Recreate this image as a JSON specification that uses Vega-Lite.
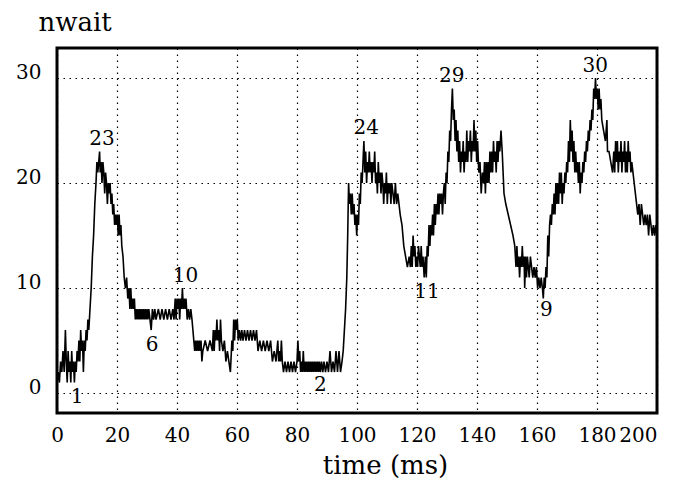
{
  "$schema": "https://vega.github.io/schema/vega-lite/v6.json",
  "width": 600,
  "height": 365,
  "autosize": {"type": "none"},
  "padding": {"left": 57, "top": 48, "right": 20, "bottom": 68},
  "background": "white",
  "config": {
    "view": {"stroke": "black", "strokeWidth": 3},
    "font": "DejaVu Serif"
  },
  "datasets": {
    "series": [
      {"t":0,"n":1},{"t":0.4,"n":2},{"t":0.8,"n":1},{"t":1.2,"n":3},{"t":1.6,"n":2},{"t":2.0,"n":4},{"t":2.4,"n":2},{"t":2.8,"n":6},{"t":3.1,"n":3},{"t":3.4,"n":1},{"t":3.7,"n":4},{"t":4.0,"n":2},{"t":4.3,"n":3},{"t":4.6,"n":1},{"t":4.9,"n":4},{"t":5.2,"n":2},{"t":5.5,"n":3},{"t":5.8,"n":1},{"t":6.1,"n":3},{"t":6.4,"n":2},{"t":6.7,"n":4},{"t":7.0,"n":3},{"t":7.3,"n":5},{"t":7.6,"n":3},{"t":7.9,"n":6},{"t":8.2,"n":4},{"t":8.5,"n":5},{"t":8.8,"n":2},{"t":9.1,"n":5},{"t":9.4,"n":4},{"t":9.7,"n":6},{"t":10.0,"n":5},{"t":10.3,"n":7},{"t":10.6,"n":6},
      {"t":11.0,"n":8},{"t":11.4,"n":10},{"t":11.8,"n":13},{"t":12.2,"n":15},{"t":12.6,"n":18},{"t":13.0,"n":20},{"t":13.3,"n":22},{"t":13.6,"n":21},{"t":13.9,"n":22},{"t":14.2,"n":23},{"t":14.4,"n":21},{"t":14.7,"n":22},{"t":15.0,"n":20},{"t":15.3,"n":22},{"t":15.6,"n":21},{"t":15.9,"n":19},{"t":16.2,"n":21},{"t":16.5,"n":20},{"t":16.8,"n":18},{"t":17.1,"n":20},{"t":17.4,"n":19},{"t":17.7,"n":20},{"t":18.0,"n":18},{"t":18.3,"n":19},{"t":18.6,"n":17},{"t":18.9,"n":18},{"t":19.2,"n":16},{"t":19.5,"n":17},{"t":19.8,"n":16},{"t":20.1,"n":17},{"t":20.4,"n":15},{"t":20.7,"n":17},{"t":21.0,"n":15},{"t":21.3,"n":16},{"t":21.6,"n":14},{"t":22.0,"n":13},{"t":22.4,"n":11},{"t":22.8,"n":10},{"t":23.2,"n":11},{"t":23.6,"n":9},{"t":24.0,"n":10},{"t":24.3,"n":8},{"t":24.6,"n":10},{"t":24.9,"n":8},{"t":25.2,"n":9},{"t":25.5,"n":8},{"t":25.8,"n":9},{"t":26.1,"n":7},{"t":26.4,"n":8},{"t":26.7,"n":7},{"t":27.0,"n":8},{"t":27.3,"n":7},{"t":27.6,"n":8},{"t":27.9,"n":7},{"t":28.2,"n":8},{"t":28.5,"n":7},{"t":28.8,"n":8},{"t":29.1,"n":7},{"t":29.4,"n":8},{"t":29.7,"n":7},{"t":30.0,"n":8},{"t":30.3,"n":7},{"t":30.6,"n":8},{"t":31.0,"n":7},{"t":31.4,"n":6},{"t":31.8,"n":8},{"t":32.2,"n":7},{"t":32.6,"n":8},{"t":33.0,"n":7},{"t":33.8,"n":8},{"t":34.4,"n":7},{"t":35.0,"n":8},{"t":35.6,"n":7},{"t":36.2,"n":8},{"t":36.8,"n":7},{"t":37.4,"n":8},{"t":38.0,"n":7},{"t":38.6,"n":8},{"t":39.0,"n":7},{"t":39.4,"n":9},{"t":39.7,"n":7},{"t":40.0,"n":9},{"t":40.3,"n":8},{"t":40.6,"n":9},{"t":40.9,"n":7},{"t":41.2,"n":9},{"t":41.5,"n":8},{"t":41.8,"n":10},{"t":42.1,"n":8},{"t":42.4,"n":9},{"t":42.7,"n":8},{"t":43.0,"n":9},{"t":43.4,"n":7},{"t":43.8,"n":8},{"t":44.2,"n":7},{"t":44.6,"n":8},{"t":45.0,"n":7},{"t":45.3,"n":6},{"t":45.6,"n":5},{"t":45.9,"n":4},{"t":46.2,"n":5},{"t":46.5,"n":4},{"t":46.8,"n":5},{"t":47.1,"n":4},{"t":47.4,"n":5},{"t":47.7,"n":4},{"t":48.0,"n":5},{"t":48.3,"n":3},{"t":48.6,"n":4},{"t":49.4,"n":5},{"t":50.2,"n":4},{"t":51.0,"n":5},{"t":51.8,"n":4},{"t":52.1,"n":6},{"t":52.4,"n":4},{"t":52.7,"n":6},{"t":53.0,"n":5},{"t":53.3,"n":7},{"t":53.6,"n":5},{"t":53.9,"n":6},{"t":54.2,"n":4},{"t":54.5,"n":7},{"t":54.8,"n":5},{"t":55.3,"n":4},{"t":55.8,"n":5},{"t":56.3,"n":3},{"t":56.8,"n":4},{"t":57.3,"n":3},{"t":57.8,"n":2},{"t":58.3,"n":5},{"t":58.6,"n":4},{"t":58.9,"n":7},{"t":59.2,"n":5},{"t":59.5,"n":7},{"t":59.8,"n":6},{"t":60.1,"n":7},{"t":60.4,"n":5},{"t":60.8,"n":6},{"t":61.2,"n":5},{"t":61.6,"n":6},{"t":62.0,"n":5},{"t":62.5,"n":6},{"t":63.0,"n":5},{"t":63.5,"n":6},{"t":64.0,"n":5},{"t":64.5,"n":6},{"t":65.0,"n":5},{"t":65.5,"n":6},{"t":66.0,"n":5},{"t":66.5,"n":6},{"t":67.0,"n":4},{"t":67.6,"n":5},{"t":68.2,"n":4},{"t":68.8,"n":5},{"t":69.4,"n":4},{"t":70.0,"n":5},{"t":70.6,"n":4},{"t":71.2,"n":5},{"t":71.8,"n":3},{"t":72.4,"n":4},{"t":73.0,"n":3},{"t":73.6,"n":5},{"t":73.9,"n":3},{"t":74.2,"n":4},{"t":74.5,"n":3},{"t":74.8,"n":5},{"t":75.1,"n":3},{"t":75.5,"n":2},{"t":76.0,"n":3},{"t":76.5,"n":2},{"t":77.0,"n":3},{"t":77.5,"n":2},{"t":78.0,"n":3},{"t":78.5,"n":2},{"t":79.0,"n":3},{"t":79.5,"n":2},{"t":80.0,"n":3},{"t":80.3,"n":5},{"t":80.6,"n":3},{"t":80.9,"n":4},{"t":81.2,"n":2},{"t":81.5,"n":3},{"t":81.8,"n":2},{"t":82.1,"n":4},{"t":82.4,"n":2},{"t":82.7,"n":3},{"t":83.0,"n":2},{"t":83.3,"n":3},{"t":83.6,"n":2},{"t":83.9,"n":3},{"t":84.2,"n":2},{"t":84.5,"n":3},{"t":84.8,"n":2},{"t":85.1,"n":3},{"t":85.4,"n":2},{"t":85.7,"n":3},{"t":86.0,"n":2},{"t":86.3,"n":3},{"t":86.6,"n":2},{"t":86.9,"n":3},{"t":87.2,"n":2},{"t":87.5,"n":3},{"t":87.8,"n":2},{"t":88.2,"n":3},{"t":88.6,"n":2},{"t":89.0,"n":3},{"t":89.5,"n":2},{"t":90.0,"n":3},{"t":90.5,"n":2},{"t":91.0,"n":4},{"t":91.5,"n":2},{"t":92.0,"n":3},{"t":92.5,"n":2},{"t":93.0,"n":4},{"t":93.5,"n":2},{"t":94.0,"n":4},{"t":94.5,"n":2},{"t":95.0,"n":3},{"t":95.4,"n":4},{"t":95.8,"n":6},{"t":96.2,"n":8},{"t":96.6,"n":11},{"t":96.9,"n":15},{"t":97.2,"n":20},{"t":97.5,"n":18},{"t":97.8,"n":19},{"t":98.1,"n":17},{"t":98.4,"n":19},{"t":98.7,"n":17},{"t":99.0,"n":18},{"t":99.3,"n":16},{"t":99.6,"n":17},{"t":99.9,"n":15},{"t":100.2,"n":17},{"t":100.5,"n":16},{"t":100.8,"n":19},{"t":101.1,"n":18},{"t":101.4,"n":21},{"t":101.7,"n":20},{"t":102.0,"n":22},{"t":102.3,"n":24},{"t":102.6,"n":21},{"t":102.9,"n":23},{"t":103.2,"n":20},{"t":103.5,"n":22},{"t":103.8,"n":21},{"t":104.1,"n":23},{"t":104.4,"n":21},{"t":104.7,"n":22},{"t":105.0,"n":20},{"t":105.3,"n":22},{"t":105.6,"n":21},{"t":105.9,"n":23},{"t":106.2,"n":20},{"t":106.5,"n":21},{"t":106.8,"n":19},{"t":107.1,"n":22},{"t":107.4,"n":20},{"t":107.7,"n":21},{"t":108.0,"n":19},{"t":108.3,"n":21},{"t":108.6,"n":20},{"t":108.9,"n":18},{"t":109.2,"n":20},{"t":109.5,"n":19},{"t":109.8,"n":21},{"t":110.1,"n":18},{"t":110.4,"n":20},{"t":110.7,"n":19},{"t":111.0,"n":20},{"t":111.3,"n":18},{"t":111.6,"n":20},{"t":112.0,"n":19},{"t":112.4,"n":18},{"t":112.8,"n":20},{"t":113.2,"n":18},{"t":113.6,"n":19},{"t":114.0,"n":18},{"t":114.4,"n":17},{"t":115.0,"n":16},{"t":115.6,"n":14},{"t":116.2,"n":13},{"t":116.8,"n":12},{"t":117.4,"n":13},{"t":117.8,"n":12},{"t":118.1,"n":14},{"t":118.4,"n":12},{"t":118.7,"n":15},{"t":119.0,"n":13},{"t":119.3,"n":14},{"t":119.6,"n":12},{"t":119.9,"n":13},{"t":120.2,"n":12},{"t":120.5,"n":14},{"t":120.8,"n":13},{"t":121.1,"n":12},{"t":121.4,"n":14},{"t":121.7,"n":12},{"t":122.0,"n":13},{"t":122.4,"n":11},{"t":122.8,"n":13},{"t":123.1,"n":11},{"t":123.4,"n":14},{"t":123.7,"n":13},{"t":124.0,"n":16},{"t":124.3,"n":14},{"t":124.6,"n":16},{"t":124.9,"n":15},{"t":125.2,"n":17},{"t":125.5,"n":15},{"t":125.8,"n":18},{"t":126.1,"n":16},{"t":126.4,"n":18},{"t":126.7,"n":17},{"t":127.0,"n":19},{"t":127.3,"n":17},{"t":127.6,"n":19},{"t":127.9,"n":18},{"t":128.2,"n":19},{"t":128.5,"n":17},{"t":128.8,"n":19},{"t":129.1,"n":20},{"t":129.4,"n":18},{"t":129.7,"n":21},{"t":130.0,"n":20},{"t":130.3,"n":23},{"t":130.6,"n":22},{"t":130.9,"n":25},{"t":131.2,"n":24},{"t":131.5,"n":27},{"t":131.8,"n":29},{"t":132.1,"n":26},{"t":132.4,"n":27},{"t":132.7,"n":24},{"t":133.0,"n":26},{"t":133.3,"n":23},{"t":133.6,"n":25},{"t":133.9,"n":22},{"t":134.2,"n":24},{"t":134.5,"n":21},{"t":134.8,"n":23},{"t":135.1,"n":22},{"t":135.4,"n":24},{"t":135.7,"n":21},{"t":136.0,"n":23},{"t":136.3,"n":22},{"t":136.6,"n":25},{"t":136.9,"n":22},{"t":137.2,"n":24},{"t":137.5,"n":23},{"t":137.8,"n":25},{"t":138.1,"n":22},{"t":138.4,"n":24},{"t":138.7,"n":23},{"t":139.0,"n":26},{"t":139.3,"n":23},{"t":139.6,"n":25},{"t":139.9,"n":22},{"t":140.2,"n":24},{"t":140.6,"n":21},{"t":141.0,"n":22},{"t":141.4,"n":19},{"t":141.8,"n":21},{"t":142.2,"n":20},{"t":142.5,"n":22},{"t":142.8,"n":19},{"t":143.1,"n":22},{"t":143.4,"n":20},{"t":143.7,"n":22},{"t":144.0,"n":20},{"t":144.3,"n":23},{"t":144.6,"n":21},{"t":144.9,"n":23},{"t":145.2,"n":21},{"t":145.5,"n":24},{"t":145.8,"n":22},{"t":146.1,"n":23},{"t":146.4,"n":21},{"t":146.7,"n":24},{"t":147.0,"n":22},{"t":147.3,"n":24},{"t":147.6,"n":23},{"t":148.0,"n":25},{"t":148.4,"n":23},{"t":149.0,"n":19},{"t":149.6,"n":18},{"t":150.4,"n":17},{"t":151.2,"n":16},{"t":152.0,"n":15},{"t":152.6,"n":14},{"t":153.0,"n":12},{"t":153.3,"n":14},{"t":153.6,"n":12},{"t":153.9,"n":13},{"t":154.2,"n":11},{"t":154.5,"n":13},{"t":154.8,"n":12},{"t":155.1,"n":14},{"t":155.4,"n":12},{"t":155.7,"n":13},{"t":155.9,"n":10},{"t":156.2,"n":13},{"t":156.5,"n":11},{"t":156.8,"n":13},{"t":157.1,"n":12},{"t":157.4,"n":11},{"t":157.8,"n":13},{"t":158.2,"n":12},{"t":158.6,"n":11},{"t":159.0,"n":12},{"t":159.4,"n":11},{"t":159.8,"n":12},{"t":160.2,"n":10},{"t":160.6,"n":11},{"t":161.0,"n":10},{"t":161.4,"n":11},{"t":161.8,"n":10},{"t":162.1,"n":9},{"t":162.4,"n":11},{"t":162.7,"n":10},{"t":163.0,"n":12},{"t":163.3,"n":11},{"t":163.6,"n":15},{"t":163.9,"n":13},{"t":164.2,"n":16},{"t":164.5,"n":17},{"t":164.8,"n":16},{"t":165.1,"n":18},{"t":165.4,"n":17},{"t":165.7,"n":19},{"t":166.0,"n":17},{"t":166.3,"n":20},{"t":166.6,"n":18},{"t":166.9,"n":20},{"t":167.2,"n":18},{"t":167.5,"n":21},{"t":167.8,"n":19},{"t":168.1,"n":21},{"t":168.4,"n":18},{"t":168.7,"n":20},{"t":169.0,"n":19},{"t":169.3,"n":21},{"t":169.6,"n":20},{"t":169.9,"n":22},{"t":170.2,"n":21},{"t":170.5,"n":24},{"t":170.8,"n":22},{"t":171.1,"n":26},{"t":171.4,"n":23},{"t":171.7,"n":25},{"t":172.0,"n":22},{"t":172.3,"n":24},{"t":172.6,"n":21},{"t":172.9,"n":23},{"t":173.2,"n":21},{"t":173.5,"n":22},{"t":173.8,"n":20},{"t":174.1,"n":22},{"t":174.4,"n":19},{"t":174.7,"n":21},{"t":175.0,"n":20},{"t":175.3,"n":22},{"t":175.6,"n":21},{"t":175.9,"n":23},{"t":176.2,"n":22},{"t":176.5,"n":24},{"t":176.8,"n":23},{"t":177.1,"n":25},{"t":177.4,"n":24},{"t":177.7,"n":26},{"t":178.0,"n":25},{"t":178.3,"n":27},{"t":178.6,"n":26},{"t":178.9,"n":29},{"t":179.2,"n":28},{"t":179.5,"n":30},{"t":179.8,"n":28},{"t":180.1,"n":29},{"t":180.4,"n":27},{"t":180.7,"n":29},{"t":181.0,"n":27},{"t":181.3,"n":28},{"t":181.6,"n":26},{"t":182.2,"n":25},{"t":182.8,"n":24},{"t":183.3,"n":26},{"t":183.5,"n":23},{"t":184.0,"n":23},{"t":184.6,"n":22},{"t":185.2,"n":21},{"t":185.6,"n":23},{"t":185.9,"n":21},{"t":186.2,"n":24},{"t":186.5,"n":22},{"t":186.8,"n":24},{"t":187.1,"n":21},{"t":187.4,"n":23},{"t":187.7,"n":22},{"t":188.0,"n":24},{"t":188.3,"n":21},{"t":188.6,"n":23},{"t":188.9,"n":22},{"t":189.2,"n":24},{"t":189.5,"n":21},{"t":189.8,"n":23},{"t":190.1,"n":21},{"t":190.4,"n":24},{"t":190.7,"n":22},{"t":191.0,"n":23},{"t":191.3,"n":21},{"t":191.6,"n":22},{"t":192.0,"n":21},{"t":192.4,"n":20},{"t":192.8,"n":19},{"t":193.2,"n":18},{"t":193.6,"n":17},{"t":194.0,"n":18},{"t":194.4,"n":16},{"t":194.8,"n":18},{"t":195.2,"n":17},{"t":195.6,"n":16},{"t":196.0,"n":17},{"t":196.4,"n":16},{"t":196.8,"n":17},{"t":197.2,"n":15},{"t":197.6,"n":17},{"t":198.0,"n":16},{"t":198.4,"n":15},{"t":198.8,"n":16},{"t":199.2,"n":15},{"t":199.6,"n":16},{"t":200,"n":15}
    ],
    "labels": [
      {"t":15.0,"n":24.2,"label":"23"},
      {"t":6.7,"n":-0.4,"label":"1"},
      {"t":31.7,"n":4.6,"label":"6"},
      {"t":42.8,"n":11.1,"label":"10"},
      {"t":87.8,"n":0.8,"label":"2"},
      {"t":103.1,"n":25.2,"label":"24"},
      {"t":131.6,"n":30.2,"label":"29"},
      {"t":123.3,"n":9.6,"label":"11"},
      {"t":163.1,"n":7.9,"label":"9"},
      {"t":179.4,"n":31.1,"label":"30"}
    ]
  },
  "layer": [
    {
      "data": {"name": "series"},
      "mark": {"type": "line", "color": "black", "strokeWidth": 1.6, "clip": true},
      "encoding": {
        "x": {
          "field": "t", "type": "quantitative",
          "scale": {"domain": [0, 200], "nice": false, "zero": false},
          "axis": {
            "values": [0, 20, 40, 60, 80, 100, 120, 140, 160, 180, 200],
            "title": "time (ms)",
            "titleFont": "DejaVu Serif", "titleFontSize": 26, "titleFontWeight": "normal", "titleColor": "black",
            "titleX": 328, "titleY": 60, "titleAlign": "center", "titleBaseline": "alphabetic", "titleAnchor": null,
            "labelFont": "DejaVu Serif", "labelFontSize": 20, "labelColor": "black", "labelPadding": 12,
            "labelAlign": {"expr": "datum.value == 200 ? 'right' : 'center'"},
            "ticks": false, "domain": false,
            "grid": true, "gridColor": "black", "gridDash": [1.5, 4.5], "gridWidth": 1.2, "gridOpacity": 1,
            "labelFlush": false, "labelOverlap": false
          }
        },
        "y": {
          "field": "n", "type": "quantitative",
          "scale": {"domain": [-1.9, 32.86], "nice": false, "zero": false},
          "axis": {
            "values": [0, 10, 20, 30],
            "title": "nwait",
            "titleFont": "DejaVu Serif", "titleFontSize": 26, "titleFontWeight": "normal", "titleColor": "black",
            "titleAngle": 0, "titleX": -19, "titleY": -18, "titleAlign": "left", "titleBaseline": "alphabetic", "titleAnchor": null,
            "labelFont": "DejaVu Serif", "labelFontSize": 20, "labelColor": "black", "labelPadding": 16,
            "labelBaseline": "alphabetic",
            "ticks": false, "domain": false,
            "grid": true, "gridColor": "black", "gridDash": [1.5, 4.5], "gridWidth": 1.2, "gridOpacity": 1,
            "labelFlush": false, "labelOverlap": false
          }
        }
      }
    },
    {
      "data": {"name": "labels"},
      "mark": {"type": "text", "font": "DejaVu Serif", "fontSize": 20, "color": "black", "align": "center", "baseline": "middle"},
      "encoding": {
        "x": {"field": "t", "type": "quantitative"},
        "y": {"field": "n", "type": "quantitative"},
        "text": {"field": "label"}
      }
    }
  ]
}
